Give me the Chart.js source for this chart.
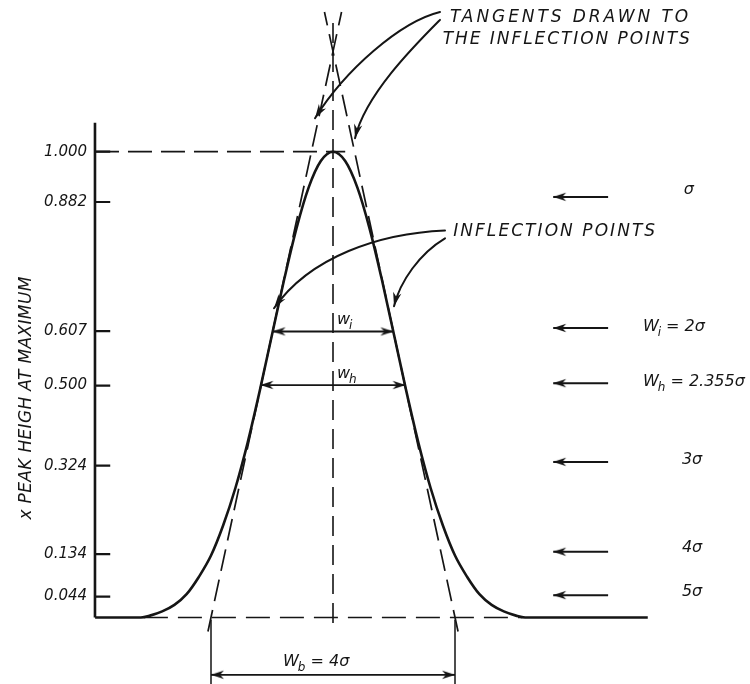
<!DOCTYPE html>
<html>
<head>
<meta charset="utf-8">
<script src="https://cdn.jsdelivr.net/npm/chart.js@4.4.1/dist/chart.umd.min.js"></script>
<style>
  html, body { margin: 0; padding: 0; background: #fff; overflow: hidden; }
  canvas { display: block; }
</style>
</head>
<body>
<canvas id="peak" width="750" height="684"></canvas>
<script>
// Gaussian peak – widths at the usual fractions of peak height
// x is in sigma units from the peak centre, y is the fraction of peak height

const curveX = [-3.9, -3.15, -3.0, -2.8, -2.6, -2.4, -2.2, -2.0, -1.8, -1.6, -1.4, -1.2, -1.0, -0.8, -0.6, -0.4, -0.2, 0,
                0.2, 0.4, 0.6, 0.8, 1.0, 1.2, 1.4, 1.6, 1.8, 2.0, 2.2, 2.4, 2.6, 2.8, 3.0, 3.15, 5.16];
const curveY = [0, 0, 0.004, 0.013, 0.027, 0.050, 0.087, 0.133, 0.198, 0.278, 0.375, 0.487, 0.607, 0.726, 0.835, 0.923, 0.980, 1.0,
                0.980, 0.923, 0.835, 0.726, 0.607, 0.487, 0.375, 0.278, 0.198, 0.133, 0.087, 0.050, 0.027, 0.013, 0.004, 0, 0];

// tick positions as drawn, and the labels written next to them
const tickValues = [0.045, 0.136, 0.326, 0.498, 0.615, 0.892, 1.0];
const tickLabels = ['0.044', '0.134', '0.324', '0.500', '0.607', '0.882', '1.000'];

// left tangent (the right one is its mirror)
const tangentX = [-2.05, 0.14];
const tangentY = [-0.03, 1.30];

// double arrows w_i, w_h, W_b
const spanY = [0.614, 0.499, -0.123];
const spanHalf = [0.99, 1.19, 2.0];

// arrows on the right, one per width level
const levelY = [0.903, 0.6215, 0.503, 0.334, 0.141, 0.048];

const AXIS_X = -3.902;                 // where the y axis is drawn
const X_MIN = -5.459, X_MAX = 6.836;   // whole canvas width
const Y_MIN = -0.1428, Y_MAX = 1.3257; // whole canvas height
const ink = '#151515';
const FONT = '"DejaVu Sans", sans-serif';

function headPath(g, tx, ty, ang, len, half) {
  const c = Math.cos(ang), s = Math.sin(ang);
  g.beginPath();
  g.moveTo(tx, ty);
  g.lineTo(tx - len * c + half * s, ty - len * s - half * c);
  g.lineTo(tx - len * 0.7 * c, ty - len * 0.7 * s);
  g.lineTo(tx - len * c - half * s, ty - len * s + half * c);
  g.closePath();
  g.fill();
}

// arrow head as a point style, tip in the middle of the canvas, pointing right
const head = (() => {
  const c = document.createElement('canvas');
  c.width = 30; c.height = 12;
  const g = c.getContext('2d');
  g.fillStyle = ink;
  headPath(g, 15, 6, 0, 13, 4.2);
  return c;
})();

const pts = (xs, ys) => xs.map((x, i) => ({ x, y: ys[i] }));
const line = (data, extra) => Object.assign({
  data, borderColor: ink, borderWidth: 1.8, pointRadius: 0, fill: false, clip: false,
}, extra);

const datasets = [];

// the peak
datasets.push(line(pts(curveX, curveY), { borderWidth: 2.6, cubicInterpolationMode: 'monotone' }));

// tangents through the inflection points
datasets.push(line(pts(tangentX, tangentY), { borderDash: [22, 9], borderWidth: 1.7 }));
datasets.push(line(pts(tangentX.map(v => -v), tangentY), { borderDash: [22, 9], borderWidth: 1.7 }));

// centre line, peak level, dashed base
datasets.push(line(pts([0, 0], [-0.012, 1.283]), { borderDash: [20, 9], borderWidth: 1.6 }));
datasets.push(line(pts([AXIS_X, 0.2], [1.0, 1.0]), { borderDash: [24, 9], borderWidth: 1.7 }));
datasets.push(line(pts([-3.1, 3.1], [0, 0]), { borderDash: [24, 10], borderWidth: 1.7 }));

// y axis and its inner ticks
datasets.push(line(pts([AXIS_X, AXIS_X], [0, 1.062]), { borderWidth: 2.6 }));
datasets.push(line(tickValues.flatMap(v => [{ x: AXIS_X, y: v }, { x: AXIS_X + 0.25, y: v }, { x: AXIS_X, y: null }]),
  { borderWidth: 2.2 }));

// W_b extension lines
[-2, 2].forEach(x => datasets.push(line(pts([x, x], [-0.005, Y_MIN]), { borderWidth: 1.5 })));

// double arrows
spanY.forEach((v, i) => datasets.push(line(pts([-spanHalf[i], spanHalf[i]], [v, v]), {
  pointStyle: head, pointRadius: 6, pointRotation: [180, 0],
})));

// arrows pointing back at the curve from the right-hand labels
levelY.forEach(v => datasets.push(line(pts([3.61, 4.51], [v, v]), {
  pointStyle: head, pointRadius: [6, 0], pointRotation: 180, borderWidth: 2,
})));

const callouts = [
  [[1.754, 1.300], [1.098, 1.279], [0.197, 1.175], [-0.295, 1.072]],
  [[1.754, 1.283], [1.344, 1.229], [0.525, 1.122], [0.361, 1.029]],
  [[1.836, 0.831], [0.770, 0.825], [-0.377, 0.775], [-0.967, 0.664]],
  [[1.836, 0.814], [1.426, 0.782], [1.098, 0.722], [1.0, 0.668]],
];

const notes = [
  { text: 'TANGENTS DRAWN TO', x: 1.92, y: 1.289, w: 238 },
  { text: 'THE INFLECTION POINTS', x: 1.80, y: 1.240, w: 247 },
  { text: 'INFLECTION POINTS', x: 1.97, y: 0.829, w: 202 },
];

const richNotes = [
  { parts: [['σ']], x: 5.75, y: 0.918 },
  { parts: [['W'], ['i', 1], [' = 2σ']], x: 5.08, y: 0.6237 },
  { parts: [['W'], ['h', 1], [' = 2.355σ']], x: 5.08, y: 0.5056 },
  { parts: [['3σ']], x: 5.72, y: 0.338 },
  { parts: [['4σ']], x: 5.72, y: 0.149 },
  { parts: [['5σ']], x: 5.72, y: 0.0547 },
  { parts: [['w'], ['i', 1]], x: 0.066, y: 0.6387 },
  { parts: [['w'], ['h', 1]], x: 0.066, y: 0.5228 },
  { parts: [['W'], ['b', 1], [' = 4σ']], x: -0.82, y: -0.0955 },
];

function fitText(ctx, text, x, y, w) {
  ctx.letterSpacing = '0px';
  const w0 = ctx.measureText(text).width;
  ctx.letterSpacing = ((w - w0) / (text.length - 1)).toFixed(2) + 'px';
  ctx.fillText(text, x, y);
  ctx.letterSpacing = '0px';
}

function richText(ctx, parts, x, y, size) {
  let cx = x;
  parts.forEach(([t, sub]) => {
    ctx.font = `italic ${sub ? Math.round(size * 0.72) : size}px ${FONT}`;
    ctx.fillText(t, cx, y + (sub ? size * 0.38 : 0));
    cx += ctx.measureText(t).width - (sub ? 0 : 1);
  });
}

const notesPlugin = {
  id: 'notes',
  afterDatasetsDraw(chart) {
    const { ctx, scales: { x, y } } = chart;
    const P = ([a, b]) => [x.getPixelForValue(a), y.getPixelForValue(b)];
    ctx.save();
    ctx.fillStyle = ink;
    ctx.strokeStyle = ink;
    ctx.lineWidth = 2;
    ctx.lineCap = 'round';

    callouts.forEach(c => {
      const [p0, c1, c2, p1] = c.map(P);
      ctx.beginPath();
      ctx.moveTo(...p0);
      ctx.bezierCurveTo(...c1, ...c2, ...p1);
      ctx.stroke();
      headPath(ctx, p1[0], p1[1], Math.atan2(p1[1] - c2[1], p1[0] - c2[0]), 14, 4.2);
    });

    ctx.textBaseline = 'middle';

    // tick labels, right aligned against the axis
    ctx.textAlign = 'right';
    ctx.font = `italic 15px ${FONT}`;
    tickValues.forEach((v, i) => {
      const [px, py] = P([AXIS_X - 0.13, v]);
      ctx.fillText(tickLabels[i], px, py);
    });

    ctx.textAlign = 'left';
    ctx.font = `italic 17px ${FONT}`;
    notes.forEach(n => {
      const [px, py] = P([n.x, n.y]);
      fitText(ctx, n.text, px, py, n.w);
    });

    richNotes.forEach(n => {
      const [px, py] = P([n.x, n.y]);
      richText(ctx, n.parts, px, py, 16);
    });

    // y axis title
    const [tx, ty] = P([-5.03, 0.471]);
    ctx.translate(tx, ty);
    ctx.rotate(-Math.PI / 2);
    ctx.font = `italic 17px ${FONT}`;
    const tw = 243;
    fitText(ctx, 'x PEAK HEIGH AT MAXIMUM', -tw / 2, 0, tw);
    ctx.restore();
  },
};

new Chart(document.getElementById('peak'), {
  type: 'line',
  data: { datasets },
  options: {
    responsive: false,
    animation: false,
    events: [],
    layout: { padding: 0, autoPadding: false },
    plugins: { legend: { display: false }, tooltip: { enabled: false } },
    scales: {
      x: { type: 'linear', min: X_MIN, max: X_MAX, display: false },
      y: { type: 'linear', min: Y_MIN, max: Y_MAX, display: false },
    },
  },
  plugins: [notesPlugin],
});
</script>
</body>
</html>
